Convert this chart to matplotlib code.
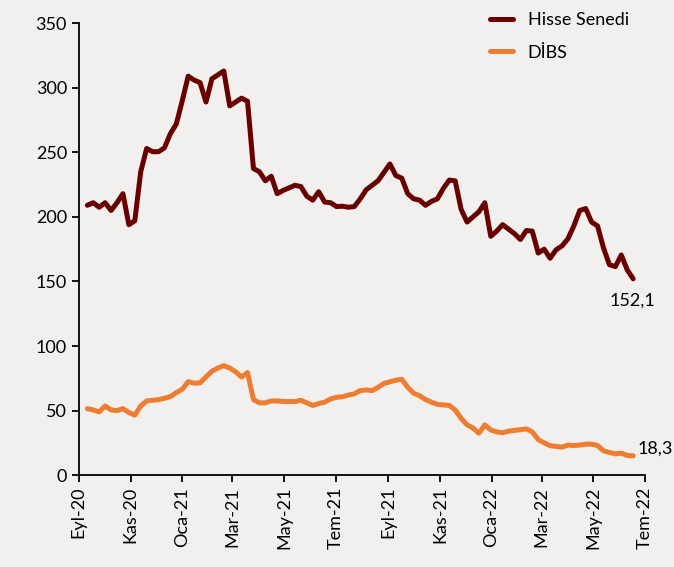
import pandas as pd
import matplotlib
matplotlib.use("Agg")
import matplotlib.pyplot as plt

# =========================
# DATA (weekly)
# =========================
dates = pd.date_range("2020-09-11", periods=93, freq="7D")

hisse = [209, 211, 207.5, 211, 205, 211, 218, 194, 197, 235,
         253, 250.5, 250.5, 253.5, 264.5, 272, 290, 309, 306, 304,
         289, 307, 310, 313, 286, 289, 292, 289.5, 237.5, 235,
         228, 231.5, 218, 220.5, 222.5, 224.5, 223.5, 216, 213, 219.5,
         211.5, 211, 208, 208.3, 207.5, 208, 214, 221, 224.5, 228,
         234.5, 241, 232, 230, 218, 214, 213, 209, 212, 214,
         222, 228.5, 228, 206, 196, 200, 204, 211, 185, 189,
         194, 190.5, 187, 182.5, 189.5, 189, 172, 175, 168, 174.5,
         177.5, 183, 193, 205, 206.5, 196, 193, 176, 163, 161.5,
         170.5, 159, 152.1]

dibs = [51.5, 50.5, 49, 53.5, 50.5, 50, 51.5, 48.5, 46.5, 53.5,
        57.5, 58, 58.5, 59.5, 60.8, 64, 66.5, 72.4, 71.2, 71.5,
        76, 80.5, 83, 84.8, 83, 80, 76, 79.5, 58.5, 56,
        56, 57.5, 57.5, 57, 57, 57, 58, 56, 54, 55.5,
        56.5, 59, 60.3, 60.7, 62, 63, 65.5, 66, 65.5, 68,
        71, 72.3, 73.5, 74.3, 68, 63.5, 61.5, 58.5, 56.5, 54.8,
        54.4, 54, 50.5, 44, 39, 36.5, 32.5, 38.9, 35, 33.5,
        32.8, 34, 34.7, 35.2, 35.8, 33.5, 27.5, 25, 22.8, 22.3,
        21.7, 23.3, 22.9, 23.3, 24, 24, 23, 18.8, 17.6, 16.5,
        17, 15.2, 15]

tick_dates = pd.to_datetime(["2020-09-01", "2020-11-01", "2021-01-01", "2021-03-01",
                             "2021-05-01", "2021-07-01", "2021-09-01", "2021-11-01",
                             "2022-01-01", "2022-03-01", "2022-05-01", "2022-07-01"])
tick_labels = ["Eyl-20", "Kas-20", "Oca-21", "Mar-21", "May-21", "Tem-21",
               "Eyl-21", "Kas-21", "Oca-22", "Mar-22", "May-22", "Tem-22"]

# =========================
# STYLE
# =========================
BG = "#F2F0EF"
C_HISSE = "#680000"
C_DIBS = "#ED7D31"
plt.rcParams['font.family'] = ['Lato', 'DejaVu Sans']

fig = plt.figure(figsize=(6.74, 5.67), dpi=100, facecolor=BG)
ax = fig.add_axes([0.117, 0.162, 0.840, 0.797], facecolor=BG)

ax.plot(dates, hisse, color=C_HISSE, lw=3.6, solid_capstyle="round",
        solid_joinstyle="round", label="Hisse Senedi")
ax.plot(dates, dibs, color=C_DIBS, lw=3.6, solid_capstyle="round",
        solid_joinstyle="round", label="DİBS")

ax.set_ylim(0, 350)
ax.set_yticks(range(0, 351, 50))
ax.set_xlim(tick_dates[0], tick_dates[-1])
ax.set_xticks(tick_dates)
ax.set_xticklabels(tick_labels, rotation=90)

for s in ["top", "right"]:
    ax.spines[s].set_visible(False)
for s in ["left", "bottom"]:
    ax.spines[s].set_linewidth(1.3)
ax.tick_params(axis="both", labelsize=13, length=5, width=1.3, direction="out")

# end labels
ax.annotate("152,1", xy=(dates[-1], hisse[-1]), xytext=(-17, -16),
            textcoords="offset points", fontsize=13, ha="left", va="center")
ax.annotate("18,3", xy=(dates[-1], dibs[-1]), xytext=(3, 5),
            textcoords="offset points", fontsize=13, ha="left", va="center",
            annotation_clip=False)

leg = ax.legend(loc="upper right", bbox_to_anchor=(1.0, 1.06), frameon=False,
                fontsize=13, handlelength=1.3, labelspacing=0.9)

fig.savefig("out.png", dpi=100, facecolor=BG)
